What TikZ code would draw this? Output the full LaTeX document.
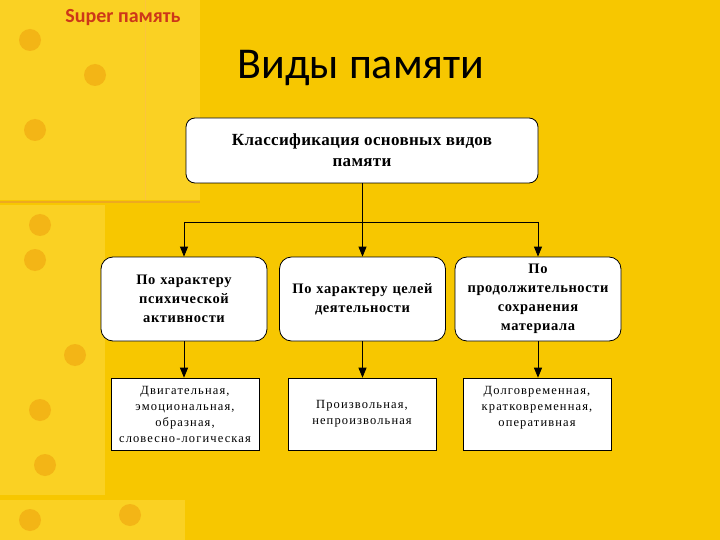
\documentclass[tikz,border=0pt]{standalone}
\usepackage{fontspec}
\setmainfont{Liberation Serif}
\newfontfamily\slidefont{Carlito}
\newfontfamily\topfont[LetterSpace=2]{Liberation Serif}
\newfontfamily\boxfont[LetterSpace=4]{Liberation Serif}
\newfontfamily\smallboxfont[LetterSpace=9]{Liberation Serif}
\usetikzlibrary{arrows.meta}

\definecolor{bggold}{RGB}{247,199,0}
\definecolor{bglight}{RGB}{250,209,35}
\definecolor{spotorange}{RGB}{232,130,0}
\definecolor{headred}{RGB}{205,55,25}

\tikzset{
  topbox/.style={draw, thick, fill=white, rounded corners=9pt, align=center,
    minimum width=352pt, minimum height=65pt,
    font=\topfont\fontsize{17}{21}\selectfont\bfseries},
  midbox/.style={draw, thick, fill=white, rounded corners=12pt, align=center,
    minimum width=166pt, minimum height=84pt, text width=156pt,
    font=\boxfont\fontsize{14.5}{19}\selectfont\bfseries},
  lowbox/.style={draw, semithick, fill=white, align=center,
    minimum width=148pt, minimum height=72pt, text width=140pt,
    font=\smallboxfont\fontsize{12.5}{16}\selectfont},
  link/.style={thick},
  arrowlink/.style={thick, -{Triangle[length=10pt,width=8pt]}}
}

\begin{document}
\begin{tikzpicture}[x=1pt, y=-1pt]
  \useasboundingbox (0,0) rectangle (720,540);

  % sfondo
  \fill[bggold] (0,0) rectangle (720,540);
  \fill[bglight] (0,0) rectangle (200,200);
  \fill[bglight] (0,205) rectangle (105,495);
  \fill[bglight] (0,500) rectangle (185,540);
  \draw[headred!70, line width=1.5pt, opacity=0.35] (0,202) -- (200,202);
  \draw[orange!60, line width=1pt, opacity=0.4] (145,0) -- (145,200);
  \foreach \px/\py in {30/40, 95/75, 35/130, 40/225, 35/260, 75/355, 40/410, 45/465, 30/520, 130/515}
    \fill[spotorange, opacity=0.35] (\px,\py) circle (11);

  % intestazione
  \node[text=headred, font=\slidefont\fontsize{20}{22}\selectfont\bfseries] (brand) at (123,18) {Super память};
  \node[font=\slidefont\fontsize{44}{50}\selectfont] (title) at (361,68) {Виды памяти};

  % riquadro principale
  \node[topbox] (top) at (362,150.5) {Классификация основных видов\\памяти};
  \coordinate (split) at (362,222);

  % secondo livello
  \node[midbox] (mid1) at (184,299) {По характеру\\психической\\активности};
  \node[midbox] (mid2) at (362.5,299) {По характеру целей\\деятельности};
  \node[midbox] (mid3) at (538,299) {По\\продолжительности\\сохранения\\материала};

  % terzo livello
  \node[lowbox] (low1) at (185,414) {Двигательная,\\эмоциональная,\\образная,\\словесно-логическая};
  \node[lowbox] (low2) at (362,414) {Произвольная,\\непроизвольная};
  \node[lowbox] (low3) at (537,414) {Долговременная,\\кратковременная,\\оперативная\\\mbox{}};

  % collegamenti
  \draw[link] (top.south) -- (split);
  \draw[link] (mid1.north |- split) -- (mid3.north |- split);
  \foreach \n in {1,2,3}
    \draw[arrowlink] (mid\n.north |- split) -- (mid\n.north);
  \foreach \n in {1,2,3}
    \draw[arrowlink] (mid\n.south) -- (mid\n.south |- low\n.north);
\end{tikzpicture}
\end{document}
